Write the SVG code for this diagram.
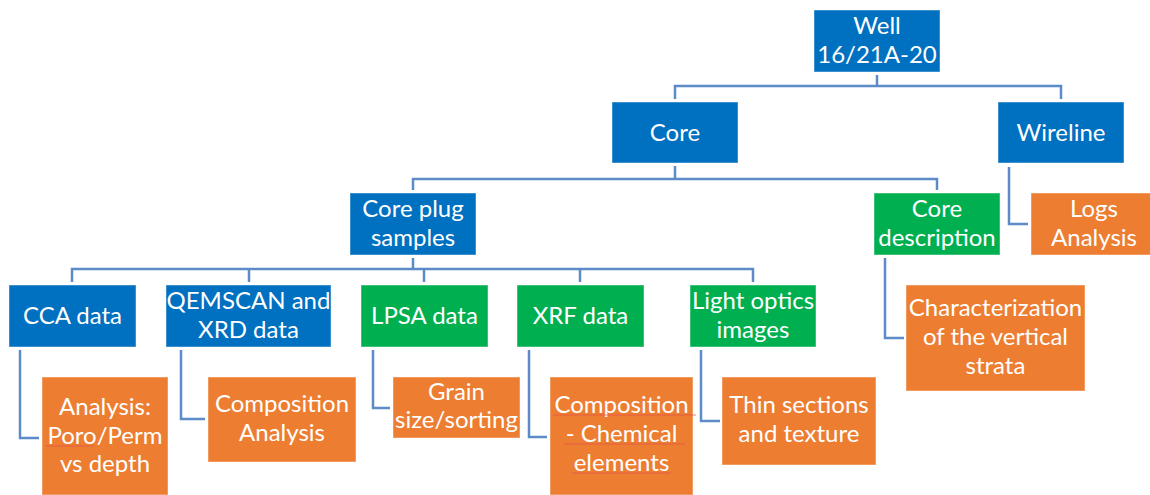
<svg xmlns="http://www.w3.org/2000/svg" width="1150" height="495" viewBox="0 0 1150 495">
<style>
.b{fill:#0070C0}
.g{fill:#00B050}
.o{fill:#ED7D31}
rect{stroke:#ffffff;stroke-opacity:0.45;stroke-width:1}
text{font-family:Lato,"Liberation Sans",sans-serif;font-size:24px;fill:#ffffff;text-anchor:middle}
.c{fill:none;stroke:#5B8CC8;stroke-width:2.5}
.sp{fill:none;stroke:#E05050;stroke-width:1;stroke-opacity:0.7}
</style>
<rect width="1150" height="495" fill="#ffffff" stroke="none"/>
<g id="connectors">
<path class="c" d="M877,75 V86 M675,99 V86 H1061 V99"/>
<path class="c" d="M675,166 V179 M413,190 V179 H937 V190"/>
<path class="c" d="M413,258 V269 M72,282 V269 H753 V282 M249,269 V282 M424,269 V282 M580,269 V282"/>
<path class="c" d="M1009,167 V224 H1028"/>
<path class="c" d="M885,258 V338 H904"/>
<path class="c" d="M20,350 V438 H39"/>
<path class="c" d="M181,350 V419 H205"/>
<path class="c" d="M373,350 V408 H390"/>
<path class="c" d="M529,350 V437 H547"/>
<path class="c" d="M701,350 V421 H720"/>
</g>
<g id="well"><rect class="b" x="814" y="10" width="126" height="62"/><text x="877" y="34">Well</text><text x="877" y="63">16/21A-20</text></g>
<g id="core"><rect class="b" x="612" y="102" width="126" height="61"/><text x="675" y="141">Core</text></g>
<g id="wireline"><rect class="b" x="998" y="102" width="126" height="61"/><text x="1061" y="141">Wireline</text></g>
<g id="core-plug"><rect class="b" x="350" y="193" width="126" height="62"/><text x="413" y="217">Core plug</text><text x="413" y="246">samples</text></g>
<g id="core-description"><rect class="g" x="874" y="193" width="126" height="62"/><text x="937" y="217">Core</text><text x="937" y="246">description</text></g>
<g id="logs"><rect class="o" x="1031" y="193" width="126" height="62"/><text x="1094" y="217">Logs</text><text x="1094" y="246">Analysis</text></g>
<g id="cca"><rect class="b" x="9" y="285" width="127" height="62"/><text x="72.5" y="324">CCA data</text></g>
<g id="qemscan"><rect class="b" x="166" y="285" width="165" height="62"/><text x="248.5" y="309">QEMSCAN and</text><text x="248.5" y="338">XRD data</text></g>
<g id="lpsa"><rect class="g" x="361" y="285" width="127" height="62"/><text x="424.5" y="324">LPSA data</text></g>
<g id="xrf"><rect class="g" x="517" y="285" width="127" height="62"/><text x="580.5" y="324">XRF data</text></g>
<g id="light"><rect class="g" x="690" y="285" width="126" height="62"/><text x="753" y="309">Light optics</text><text x="753" y="338">images</text></g>
<g id="characterization"><rect class="o" x="906" y="285" width="179" height="106"/><text x="995.5" y="316">Characterization</text><text x="995.5" y="345">of the vertical</text><text x="995.5" y="374">strata</text></g>
<g id="analysis"><rect class="o" x="42" y="377" width="126" height="118"/><text x="105" y="415">Analysis:</text><text x="105" y="444">Poro/Perm</text><text x="105" y="472">vs depth</text><path class="sp" d="M46,446 H94"/></g>
<g id="composition-analysis"><rect class="o" x="208" y="377" width="148" height="85"/><text x="282" y="412">Composition</text><text x="282" y="441">Analysis</text></g>
<g id="grain"><rect class="o" x="393" y="377" width="127" height="61"/><text x="456.5" y="400">Grain</text><text x="456.5" y="428">size/sorting</text></g>
<g id="composition-chemical"><rect class="o" x="550" y="377" width="143" height="118"/><text x="621.5" y="413">Composition</text><text x="621.5" y="442">- Chemical</text><text x="621.5" y="471">elements</text><path class="sp" d="M553,415 H696 M564,444 H685 M572,473 H671"/></g>
<g id="thin-sections"><rect class="o" x="722" y="377" width="154" height="88"/><text x="799" y="413">Thin sections</text><text x="799" y="442">and texture</text></g>
</svg>
